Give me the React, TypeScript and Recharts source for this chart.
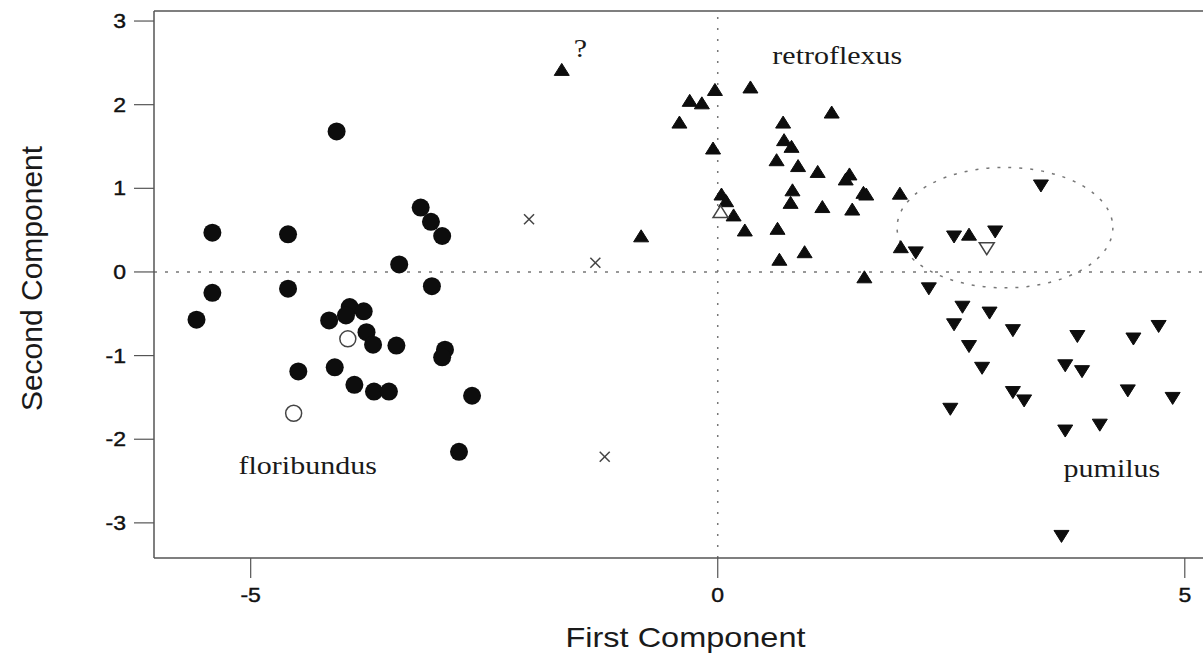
import React from 'react';
import { ScatterChart, Scatter, XAxis, YAxis, ReferenceLine, ReferenceArea, Label } from 'recharts';

// floribundus (filled circles)
const floribundusX = [-4.08, -5.41, -4.6, -3.18, -3.07, -2.95, -3.41, -5.41, -4.6, -3.06, -5.58, -4.16, -3.94, -3.98, -3.79, -3.76, -3.69, -3.44, -2.92, -2.95, -4.49, -4.1, -3.89, -3.68, -3.52, -2.63, -2.77];
const floribundusY = [1.68, 0.47, 0.45, 0.77, 0.6, 0.43, 0.09, -0.25, -0.2, -0.17, -0.57, -0.58, -0.42, -0.52, -0.47, -0.72, -0.87, -0.88, -0.93, -1.02, -1.19, -1.14, -1.35, -1.43, -1.43, -1.48, -2.15];

// open circles
const openCircleX = [-3.96, -4.54];
const openCircleY = [-0.8, -1.69];

// crosses (unassigned)
const crossX = [-2.02, -1.31, -1.21];
const crossY = [0.63, 0.11, -2.21];

// retroflexus (filled up-triangles)
const retroflexusX = [-1.67, -0.03, 0.35, -0.3, -0.17, -0.41, -0.05, 0.7, 1.22, 0.71, 0.79, 0.63, 0.86, 1.07, 1.41, 1.37, 1.56, 1.59, 1.95, 0.8, 0.78, 1.12, 1.44, 0.04, 0.09, 0.17, 0.29, 0.64, -0.82, 0.93, 0.66, 1.57, 1.96, 2.69];
const retroflexusY = [2.41, 2.17, 2.2, 2.04, 2.01, 1.78, 1.47, 1.78, 1.9, 1.57, 1.49, 1.33, 1.26, 1.19, 1.16, 1.1, 0.94, 0.92, 0.93, 0.97, 0.82, 0.77, 0.74, 0.92, 0.84, 0.67, 0.49, 0.51, 0.42, 0.23, 0.14, -0.07, 0.29, 0.44];

const openUpX = [0.03];
const openUpY = [0.71];

// pumilus (filled down-triangles)
const pumilusX = [2.53, 2.97, 3.46, 2.12, 2.26, 2.62, 2.91, 2.53, 3.16, 3.85, 4.45, 4.72, 2.69, 2.83, 3.72, 3.9, 4.39, 4.87, 3.16, 3.28, 2.49, 3.72, 4.09, 3.68];
const pumilusY = [0.43, 0.49, 1.04, 0.24, -0.19, -0.41, -0.48, -0.62, -0.69, -0.76, -0.79, -0.64, -0.88, -1.14, -1.11, -1.18, -1.41, -1.5, -1.43, -1.53, -1.63, -1.89, -1.82, -3.15];

const openDownX = [2.88];
const openDownY = [0.29];

// group names written on the plot
const labelNames = ['?', 'retroflexus', 'floribundus', 'pumilus'];
const labelX = [-1.47, 1.28, -4.39, 4.22];
const labelY = [2.57, 2.49, -2.41, -2.45];

// dotted ellipse around the overlap zone
const ellipseX = [1.92, 4.23];
const ellipseY = [-0.19, 1.25];

const xTicks = [-5, 0, 5];
const yTicks = [-3, -2, -1, 0, 1, 2, 3];
const xDomain = [-6.035, 5.195];
const yDomain = [-3.42, 3.12];

const toPoints = (xs: number[], ys: number[]) => xs.map((x, i) => ({ x, y: ys[i] }));

const INK = '#0d0d0d';
const GREY = '#555';
const SANS = '"Liberation Sans", Arial, sans-serif';
const SERIF = '"Liberation Serif", "Times New Roman", serif';

const FilledCircle = ({ cx, cy }: any) => <circle cx={cx} cy={cy} r={9} fill={INK} />;
const OpenCircle = ({ cx, cy }: any) => (
  <circle cx={cx} cy={cy} r={8} fill="#fff" stroke="#444" strokeWidth={1.5} />
);
const UpTriangle = ({ cx, cy, open }: any) => (
  <polygon
    points={`${cx},${cy - 7} ${cx - 7.5},${cy + 5} ${cx + 7.5},${cy + 5}`}
    fill={open ? '#fff' : INK}
    stroke={open ? '#444' : INK}
    strokeWidth={open ? 1.5 : 1}
  />
);
const DownTriangle = ({ cx, cy, open }: any) => (
  <polygon
    points={`${cx - 7.5},${cy - 5} ${cx + 7.5},${cy - 5} ${cx},${cy + 7}`}
    fill={open ? '#fff' : INK}
    stroke={open ? '#444' : INK}
    strokeWidth={open ? 1.5 : 1}
  />
);
const Cross = ({ cx, cy }: any) => (
  <g stroke="#444" strokeWidth={1.5}>
    <line x1={cx - 5} y1={cy - 5} x2={cx + 5} y2={cy + 5} />
    <line x1={cx - 5} y1={cy + 5} x2={cx + 5} y2={cy - 5} />
  </g>
);
const GroupLabel = ({ cx, cy, payload }: any) => (
  <text
    transform={`translate(${cx},${cy}) scale(1.2,1)`}
    textAnchor="middle"
    fontFamily={SERIF}
    fontSize={25}
    fill="#1a1a1a"
  >
    {payload.name}
  </text>
);

const Ellipse = ({ x, y, width, height }: any) => (
  <ellipse
    cx={x + width / 2}
    cy={y + height / 2}
    rx={width / 2}
    ry={height / 2}
    fill="none"
    stroke="#777"
    strokeWidth={1.5}
    strokeDasharray="3 8"
  />
);

const YTick = ({ x, y, payload }: any) => (
  <text transform={`translate(${x},${y}) scale(1.15,1)`} dy="0.355em" textAnchor="end" fontFamily={SANS} fontSize={20} fill="#111" stroke="#111" strokeWidth={0.4}>
    {payload.value}
  </text>
);
const XTick = ({ x, y, payload }: any) => (
  <text transform={`translate(${x},${y}) scale(1.15,1)`} dy="0.71em" textAnchor="middle" fontFamily={SANS} fontSize={20} fill="#111" stroke="#111" strokeWidth={0.4}>
    {payload.value}
  </text>
);

const YTitle = ({ viewBox }: any) => {
  const cx = viewBox.x + 42;
  const cy = viewBox.y + viewBox.height / 2 - 6;
  return (
    <text x={cx} y={cy} transform={`rotate(-90, ${cx}, ${cy})`} textAnchor="middle" fontFamily={SANS} fontSize={30} fill="#1a1a1a">
      Second Component
    </text>
  );
};
const XTitle = ({ viewBox }: any) => {
  const cx = viewBox.x + viewBox.width / 2 + 7;
  const cy = viewBox.y + 89;
  return (
    <text transform={`translate(${cx},${cy}) scale(1.16,1)`} textAnchor="middle" fontFamily={SANS} fontSize={28} fill="#1a1a1a">
      First Component
    </text>
  );
};

export default function App() {
  const labels = labelNames.map((name, i) => ({ name, x: labelX[i], y: labelY[i] }));
  return (
    <div style={{ position: 'absolute', left: 0, top: 0, width: 1203, height: 656, overflow: 'hidden', background: '#fff' }}>
      <ScatterChart width={1203} height={656} margin={{ top: 11, right: 0, bottom: 0, left: 0 }}>
        <XAxis
          type="number"
          dataKey="x"
          domain={xDomain}
          allowDataOverflow
          ticks={xTicks}
          height={98}
          tickSize={20}
          tickMargin={10}
          tick={<XTick />}
          axisLine={{ stroke: GREY, strokeWidth: 1.5 }}
          tickLine={{ stroke: GREY, strokeWidth: 1.2 }}
        >
          <Label content={<XTitle />} />
        </XAxis>
        <YAxis
          type="number"
          dataKey="y"
          domain={yDomain}
          allowDataOverflow
          ticks={yTicks}
          width={154}
          tickSize={20}
          tickMargin={8}
          tick={<YTick />}
          axisLine={{ stroke: GREY, strokeWidth: 1.5 }}
          tickLine={{ stroke: GREY, strokeWidth: 1.2 }}
        >
          <Label content={<YTitle />} />
        </YAxis>
        {/* top frame line */}
        <ReferenceLine y={yDomain[1]} stroke={GREY} strokeWidth={1.5} ifOverflow="visible" />
        <ReferenceLine y={0} stroke="#777" strokeWidth={1.5} strokeDasharray="3 8" />
        <ReferenceLine x={0} stroke="#777" strokeWidth={1.5} strokeDasharray="2 9" />
        <ReferenceArea x1={ellipseX[0]} x2={ellipseX[1]} y1={ellipseY[0]} y2={ellipseY[1]} shape={<Ellipse />} />
        <Scatter data={toPoints(floribundusX, floribundusY)} shape={<FilledCircle />} isAnimationActive={false} />
        <Scatter data={toPoints(openCircleX, openCircleY)} shape={<OpenCircle />} isAnimationActive={false} />
        <Scatter data={toPoints(crossX, crossY)} shape={<Cross />} isAnimationActive={false} />
        <Scatter data={toPoints(retroflexusX, retroflexusY)} shape={<UpTriangle />} isAnimationActive={false} />
        <Scatter data={toPoints(openUpX, openUpY)} shape={<UpTriangle open />} isAnimationActive={false} />
        <Scatter data={toPoints(pumilusX, pumilusY)} shape={<DownTriangle />} isAnimationActive={false} />
        <Scatter data={toPoints(openDownX, openDownY)} shape={<DownTriangle open />} isAnimationActive={false} />
        <Scatter data={labels} shape={<GroupLabel />} isAnimationActive={false} />
      </ScatterChart>
    </div>
  );
}
